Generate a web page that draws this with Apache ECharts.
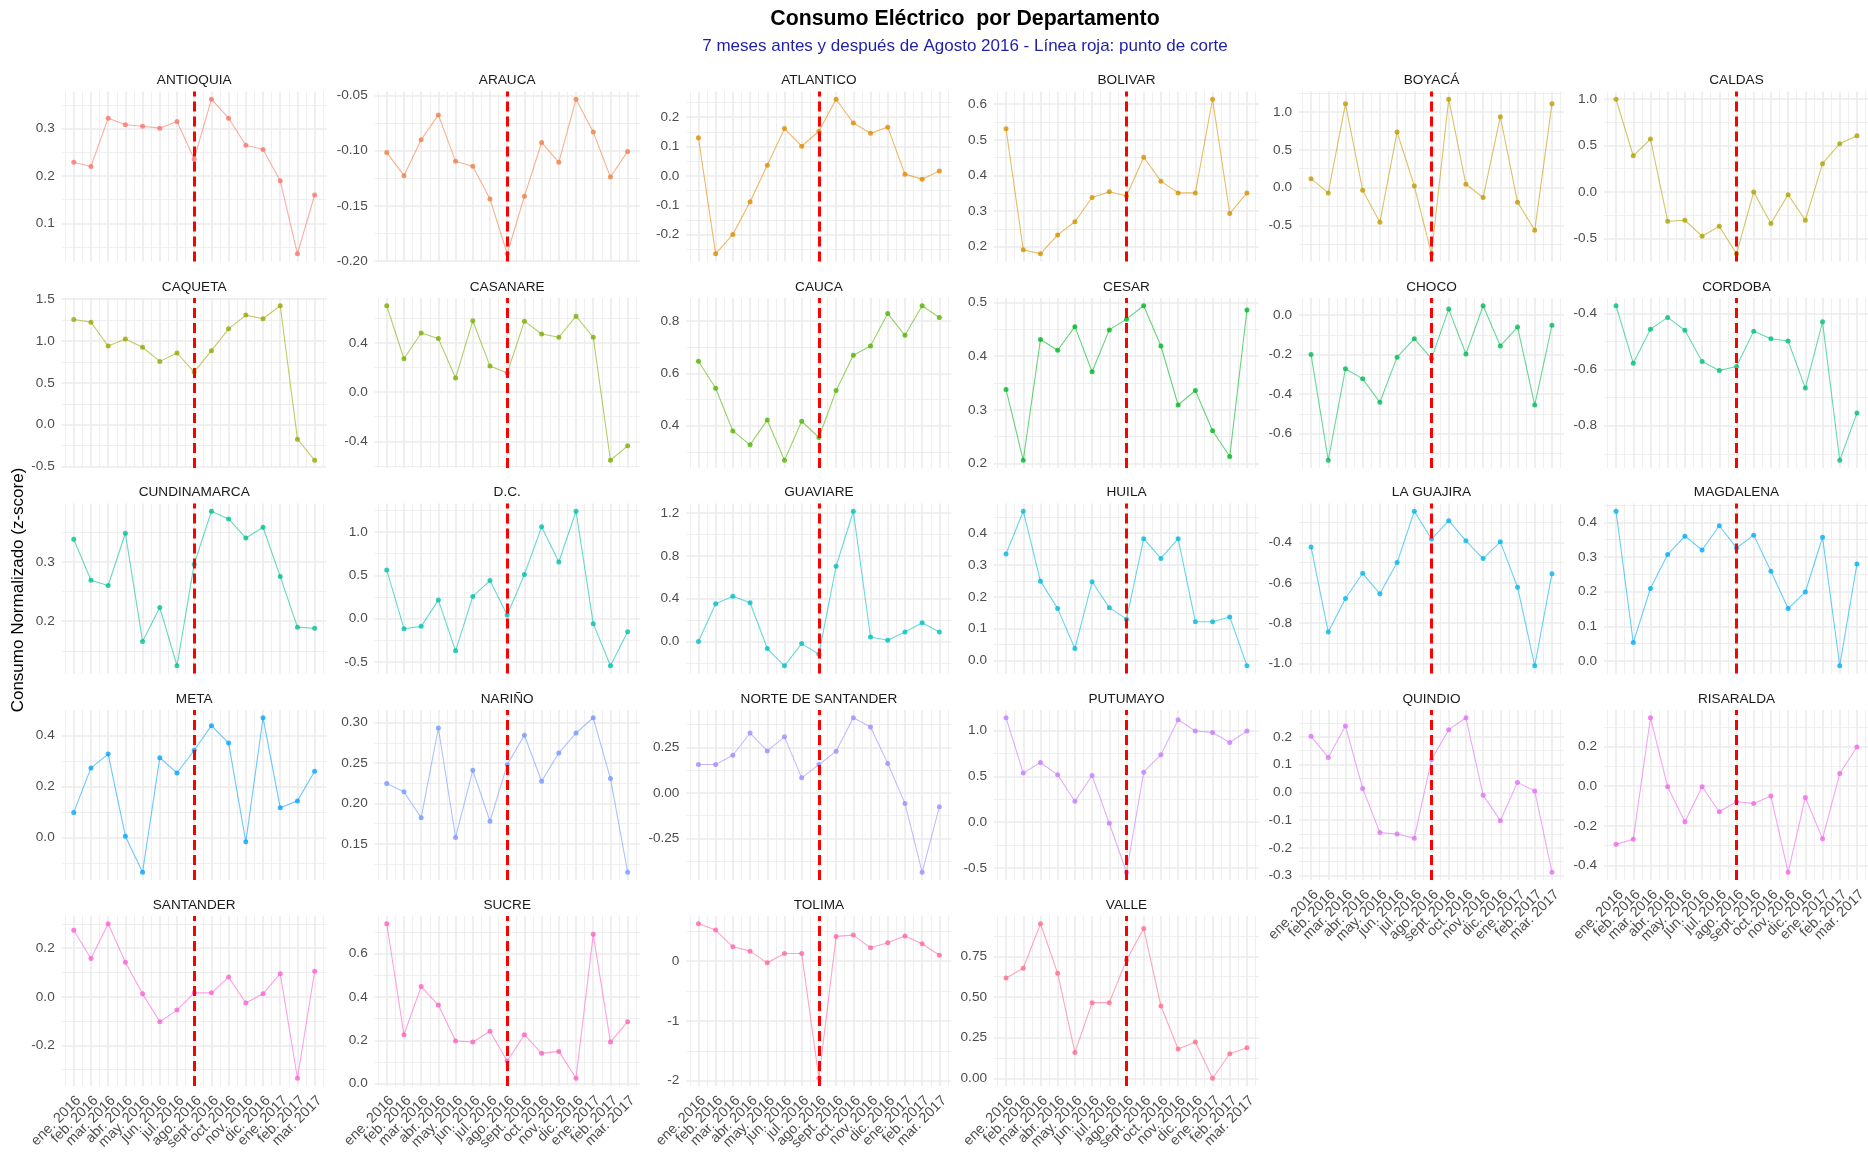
<!DOCTYPE html>
<html><head><meta charset="utf-8">
<script src="https://cdn.jsdelivr.net/npm/echarts@6/dist/echarts.min.js"></script>
<style>html,body{margin:0;padding:0;background:#fff}#c{width:1868px;height:1171px}</style>
</head><body><div id="c"></div>
<script>
// ---------------- DATA ----------------
const months = ['ene. 2016','feb. 2016','mar. 2016','abr. 2016','may. 2016','jun. 2016','jul. 2016','ago. 2016','sept. 2016','oct. 2016','nov. 2016','dic. 2016','ene. 2017','feb. 2017','mar. 2017'];
const cutMonth = 'ago. 2016';
const departments = ['ANTIOQUIA','ARAUCA','ATLANTICO','BOLIVAR','BOYACÁ','CALDAS','CAQUETA','CASANARE','CAUCA','CESAR','CHOCO','CORDOBA','CUNDINAMARCA','D.C.','GUAVIARE','HUILA','LA GUAJIRA','MAGDALENA','META','NARIÑO','NORTE DE SANTANDER','PUTUMAYO','QUINDIO','RISARALDA','SANTANDER','SUCRE','TOLIMA','VALLE'];

const antioquia = [0.229,0.220,0.322,0.308,0.305,0.301,0.315,0.236,0.362,0.322,0.265,0.256,0.190,0.036,0.160];
const arauca = [-0.1015,-0.1226,-0.0900,-0.0675,-0.1096,-0.1140,-0.1437,-0.1934,-0.1413,-0.0925,-0.1105,-0.0533,-0.0831,-0.1238,-0.1006];
const atlantico = [0.130,-0.265,-0.199,-0.088,0.036,0.161,0.101,0.152,0.261,0.180,0.145,0.166,0.006,-0.011,0.017];
const bolivar = [0.531,0.191,0.180,0.233,0.270,0.338,0.354,0.342,0.451,0.384,0.351,0.351,0.614,0.293,0.351];
const boyaca = [0.118,-0.070,1.110,-0.035,-0.460,0.737,0.022,-0.877,1.171,0.044,-0.132,0.939,-0.193,-0.566,1.110];
const caldas = [0.996,0.389,0.568,-0.314,-0.304,-0.475,-0.368,-0.664,0.000,-0.339,-0.029,-0.304,0.304,0.518,0.604];
const caqueta = [1.256,1.224,0.940,1.024,0.924,0.756,0.856,0.628,0.884,1.144,1.308,1.264,1.420,-0.172,-0.424];
const casanare = [0.705,0.273,0.483,0.437,0.115,0.582,0.213,0.156,0.579,0.475,0.448,0.620,0.448,-0.555,-0.437];
const cauca = [0.646,0.543,0.380,0.327,0.422,0.268,0.417,0.355,0.534,0.669,0.704,0.828,0.745,0.858,0.813];
const cesar = [0.338,0.206,0.431,0.411,0.455,0.371,0.449,0.469,0.494,0.419,0.309,0.336,0.261,0.213,0.486];
const choco = [-0.200,-0.736,-0.272,-0.323,-0.442,-0.213,-0.119,-0.220,0.031,-0.197,0.048,-0.156,-0.060,-0.456,-0.051];
const cordoba = [-0.3725,-0.577,-0.456,-0.414,-0.460,-0.571,-0.603,-0.589,-0.463,-0.490,-0.498,-0.666,-0.430,-0.923,-0.755];
const cundinamarca = [0.338,0.269,0.260,0.348,0.166,0.223,0.125,0.296,0.385,0.372,0.340,0.358,0.275,0.190,0.188];
const dc = [0.561,-0.115,-0.088,0.214,-0.370,0.256,0.439,0.042,0.508,1.057,0.653,1.237,-0.057,-0.542,-0.149];
const guaviare = [0.000,0.353,0.424,0.362,-0.065,-0.226,-0.019,-0.118,0.703,1.217,0.043,0.012,0.090,0.176,0.090];
const huila = [0.334,0.468,0.249,0.163,0.038,0.247,0.166,0.130,0.382,0.320,0.382,0.122,0.122,0.137,-0.016];
const laGuajira = [-0.422,-0.845,-0.678,-0.553,-0.655,-0.500,-0.245,-0.383,-0.292,-0.392,-0.480,-0.397,-0.622,-1.012,-0.555];
const magdalena = [0.432,0.053,0.209,0.307,0.360,0.320,0.390,0.326,0.363,0.259,0.151,0.199,0.357,-0.014,0.280];
const meta = [0.099,0.273,0.327,0.006,-0.135,0.313,0.253,0.342,0.438,0.370,-0.016,0.469,0.117,0.144,0.260];
const narino = [0.2247,0.2144,0.1823,0.2933,0.1580,0.2410,0.1780,0.2480,0.2843,0.2275,0.2625,0.2871,0.3060,0.2308,0.1150];
const norteDeSantander = [0.155,0.155,0.206,0.328,0.230,0.307,0.082,0.155,0.228,0.412,0.361,0.161,-0.058,-0.436,-0.077];
const putumayo = [1.138,0.535,0.651,0.516,0.229,0.509,-0.011,-0.545,0.545,0.735,1.116,0.993,0.978,0.869,0.993];
const quindio = [0.202,0.126,0.239,0.014,-0.145,-0.150,-0.165,0.118,0.226,0.269,-0.010,-0.102,0.036,0.005,-0.288];
const risaralda = [-0.294,-0.268,0.346,-0.003,-0.180,-0.003,-0.129,-0.079,-0.087,-0.050,-0.435,-0.057,-0.265,0.064,0.198];
const santander = [0.274,0.158,0.301,0.142,0.012,-0.103,-0.055,0.016,0.016,0.081,-0.026,0.012,0.095,-0.336,0.105];
const sucre = [0.738,0.226,0.448,0.363,0.197,0.192,0.242,0.105,0.226,0.140,0.149,0.025,0.689,0.192,0.286];
const tolima = [0.627,0.521,0.241,0.168,-0.028,0.129,0.129,-1.960,0.415,0.437,0.224,0.308,0.420,0.291,0.100];
const valle = [0.616,0.676,0.950,0.645,0.159,0.465,0.465,0.727,0.921,0.444,0.180,0.223,0.000,0.151,0.188];

const seriesValues = [antioquia,arauca,atlantico,bolivar,boyaca,caldas,caqueta,casanare,cauca,cesar,choco,cordoba,cundinamarca,dc,guaviare,huila,laGuajira,magdalena,meta,narino,norteDeSantander,putumayo,quindio,risaralda,santander,sucre,tolima,valle];
// y tick step (spacing of labelled y ticks) per panel
const yTickStep = [0.1,0.05,0.1,0.1,0.5,0.5,0.5,0.4,0.2,0.1,0.2,0.2,0.1,0.5,0.4,0.1,0.2,0.1,0.2,0.05,0.25,0.5,0.1,0.2,0.2,0.2,1,0.25];

const titleText = 'Consumo Eléctrico  por Departamento';
const subtitleText = '7 meses antes y después de Agosto 2016 - Línea roja: punto de corte';
const yTitleText = 'Consumo Normalizado (z-score)';

// ---------------- STYLE / LAYOUT ----------------
const FONT = '"Liberation Sans", Arial, sans-serif';
const colLeft = [61.7, 374.7, 686.4, 994, 1299, 1604];
const rowTop = [91.5, 298, 503.5, 710, 916];
const panelW = 265, panelH = 170;
const nCols = 6;

function hclHex(h, c, l) {
  const hr = h * Math.PI / 180;
  const U = c * Math.cos(hr), V = c * Math.sin(hr);
  const Xn = 95.047, Yn = 100.0, Zn = 108.883;
  const un = 4 * Xn / (Xn + 15 * Yn + 3 * Zn), vn = 9 * Yn / (Xn + 15 * Yn + 3 * Zn);
  const Y = l > 8 ? Yn * Math.pow((l + 16) / 116, 3) : Yn * l / 903.3;
  const u = U / (13 * l) + un, v = V / (13 * l) + vn;
  const X = 9 * Y * u / (4 * v), Z = Y * (12 - 3 * u - 20 * v) / (4 * v);
  const x = X / 100, y = Y / 100, z = Z / 100;
  const r = 3.2404542 * x - 1.5371385 * y - 0.4985314 * z;
  const g = -0.9692660 * x + 1.8760108 * y + 0.0415560 * z;
  const b = 0.0556434 * x - 0.2040259 * y + 1.0572252 * z;
  const gam = t => { t = t <= 0.0031308 ? 12.92 * t : 1.055 * Math.pow(t, 1 / 2.4) - 0.055; return Math.round(Math.max(0, Math.min(1, t)) * 255); };
  return '#' + [r, g, b].map(gam).map(n => n.toString(16).padStart(2, '0')).join('');
}
const nDep = departments.length;
const palette = departments.map((d, i) => hclHex(15 + 360 * i / nDep, 100, 65));

const cutIndex = months.indexOf(cutMonth);
const grids = [], xAxes = [], yAxes = [], series = [], graphics = [];

departments.forEach((name, i) => {
  const r = Math.floor(i / nCols), c = i % nCols;
  const left = colLeft[c], top = rowTop[r];
  const vals = seriesValues[i];
  const mn = Math.min(...vals), mx = Math.max(...vals);
  const pad = (mx - mn) * 0.05;
  const lo = mn - pad, hi = mx + pad;
  const step = yTickStep[i];
  const dec = step >= 1 ? 0 : ((String(step).split('.')[1] || '').length);
  const showX = (i + nCols >= nDep);
  const col = palette[i];

  grids.push({ left: left, top: top, width: panelW, height: panelH, containLabel: false, outerBoundsMode: 'none' });
  xAxes.push({
    gridIndex: i, type: 'value', min: -0.7, max: 14.7,
    minInterval: 1, maxInterval: 1, splitNumber: 14,
    axisLine: { show: false }, axisTick: { show: false },
    axisLabel: {
      show: showX, rotate: 45, margin: 7.5, hideOverlap: false,
      align: 'right', verticalAlign: 'top',
      fontFamily: FONT, fontSize: 14.3, color: '#4D4D4D',
      formatter: v => { const k = Math.round(v); return (Math.abs(v - k) < 1e-6 && k >= 0 && k < months.length) ? months[k] : ''; }
    },
    splitLine: { show: true, showMinLine: false, showMaxLine: false, lineStyle: { color: '#EBEBEB', width: 1.6 } },
    minorTick: { show: false, splitNumber: 2 },
    minorSplitLine: { show: true, lineStyle: { color: '#EBEBEB', width: 0.8 } }
  });
  yAxes.push({
    gridIndex: i, type: 'value', min: lo, max: hi,
    minInterval: step, maxInterval: step, splitNumber: Math.max(1, Math.round((hi - lo) / step)),
    axisLine: { show: false }, axisTick: { show: false },
    axisLabel: {
      show: true, margin: 7, hideOverlap: false,
      fontFamily: FONT, fontSize: 13.6, color: '#4D4D4D',
      formatter: v => { const k = Math.round(v / step); if (Math.abs(v / step - k) > 1e-6) return ''; const q = k * step; return (Math.abs(q) < 1e-12 ? 0 : q).toFixed(dec); }
    },
    splitLine: { show: true, showMinLine: false, showMaxLine: false, lineStyle: { color: '#EBEBEB', width: 1.6 } },
    minorTick: { show: false, splitNumber: 2 },
    minorSplitLine: { show: true, lineStyle: { color: '#EBEBEB', width: 0.8 } }
  });
  series.push({
    type: 'line', name: name, xAxisIndex: i, yAxisIndex: i,
    data: vals.map((v, k) => [k, v]),
    symbol: 'circle', symbolSize: 5, showSymbol: true,
    lineStyle: { color: col, width: 1.1, opacity: 0.6 },
    itemStyle: { color: col, opacity: 0.8 },
    emphasis: { disabled: true },
    silent: true, z: 2,
    markLine: {
      silent: true, symbol: 'none', label: { show: false }, animation: false,
      lineStyle: { color: '#FF0000', width: 3, type: [10, 5], opacity: 1 },
      emphasis: { disabled: true },
      data: [{ xAxis: cutIndex }]
    }
  });
  graphics.push({
    type: 'text', x: left + panelW / 2, y: top - 11, silent: true,
    style: { text: name, align: 'center', verticalAlign: 'middle', fill: '#1A1A1A', font: '13.6px ' + FONT }
  });
});

graphics.push({ type: 'text', x: 965, y: 19, silent: true,
  style: { text: titleText, align: 'center', verticalAlign: 'middle', fill: '#000000', font: 'bold 21.3px ' + FONT } });
graphics.push({ type: 'text', x: 965, y: 46.5, silent: true,
  style: { text: subtitleText, align: 'center', verticalAlign: 'middle', fill: '#1F1FA8', font: '17px ' + FONT } });
graphics.push({ type: 'text', x: 18, y: 590, rotation: Math.PI / 2, silent: true,
  style: { text: yTitleText, align: 'center', verticalAlign: 'middle', fill: '#000000', font: '17px ' + FONT } });

const chart = echarts.init(document.getElementById('c'), null, { renderer: 'canvas' });
chart.setOption({
  animation: false,
  backgroundColor: '#FFFFFF',
  grid: grids, xAxis: xAxes, yAxis: yAxes, series: series,
  graphic: graphics
});
</script>
</body></html>
